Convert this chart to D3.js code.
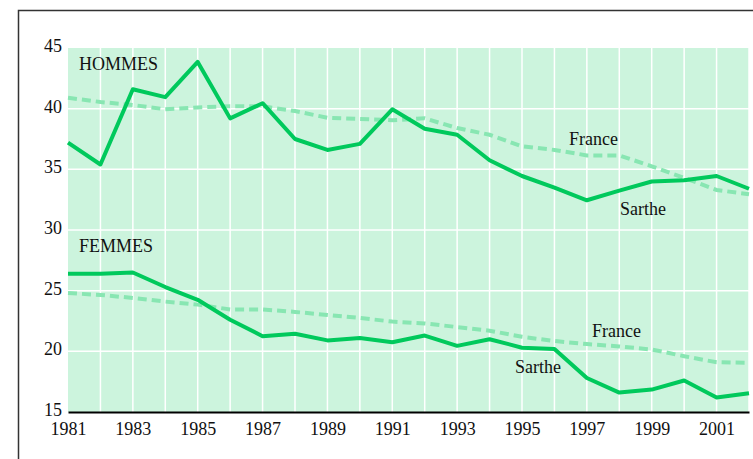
<!DOCTYPE html>
<html lang="fr">
<head>
  <meta charset="UTF-8" />
  <title>Hommes / Femmes - Sarthe et France</title>
  <script src="https://d3js.org/d3.v7.min.js"></script>
  <style>
    body, html { margin: 0; padding: 0; background: #fff; }
    svg { display: block; font-family: "Liberation Serif", "DejaVu Serif", serif; }
  </style>
</head>
<body>
  <svg id="chart" width="753" height="459"></svg>
  <script>
    // Years on the x axis
    const years = d3.range(1981, 2003);
    const xTickYears = [1981, 1983, 1985, 1987, 1989, 1991, 1993, 1995, 1997, 1999, 2001];
    const yTicks = [15, 20, 25, 30, 35, 40, 45];

    // Values
    const hommesSarthe = [37.2, 35.4, 41.6, 40.95, 43.85, 39.2, 40.45, 37.5, 36.6, 37.1, 39.95, 38.35,
                          37.85, 35.75, 34.45, 33.5, 32.45, 33.25, 34.0, 34.1, 34.45, 33.4];
    const hommesFrance = [40.9, 40.55, 40.3, 39.95, 40.1, 40.2, 40.2, 39.8, 39.25, 39.15, 39.05, 39.2,
                          38.4, 37.85, 36.9, 36.6, 36.15, 36.15, 35.25, 34.3, 33.3, 32.95];
    const femmesSarthe = [26.4, 26.4, 26.5, 25.3, 24.25, 22.6, 21.25, 21.45, 20.9, 21.1, 20.75, 21.3,
                          20.45, 21.0, 20.3, 20.2, 17.8, 16.6, 16.85, 17.6, 16.2, 16.55];
    const femmesFrance = [24.8, 24.65, 24.4, 24.1, 23.85, 23.45, 23.45, 23.25, 23.0, 22.75, 22.45, 22.3,
                          22.0, 21.7, 21.2, 20.85, 20.6, 20.4, 20.15, 19.6, 19.1, 19.05];

    const svg = d3.select('#chart');
    const plotLeft = 68, plotRight = 749, plotTop = 48, plotBottom = 412;

    // Outer frame (runs off the right and bottom of the picture)
    svg.append('rect')
      .attr('x', 18.5).attr('y', 10.5).attr('width', 760).attr('height', 470)
      .attr('fill', 'none').attr('stroke', '#333').attr('stroke-width', 1.5);

    const x = d3.scaleLinear().domain([1981, 2002]).range([plotLeft, plotRight]);
    const y = d3.scaleLinear().domain([15, 45]).range([plotBottom, plotTop]);

    // Plot background
    svg.append('rect')
      .attr('x', plotLeft).attr('y', plotTop)
      .attr('width', plotRight - plotLeft).attr('height', plotBottom - plotTop)
      .attr('fill', '#ccf4dd');

    // White grid lines
    const grid = svg.append('g').attr('stroke', '#fff').attr('stroke-width', 1.5);
    grid.selectAll('line.v').data(years.slice(1)).join('line')
      .attr('class', 'v')
      .attr('x1', d => x(d)).attr('x2', d => x(d))
      .attr('y1', plotTop).attr('y2', plotBottom);
    grid.selectAll('line.h').data(yTicks.filter(d => d > 15 && d < 45)).join('line')
      .attr('class', 'h')
      .attr('x1', plotLeft).attr('x2', plotRight)
      .attr('y1', d => y(d)).attr('y2', d => y(d));

    // Axes
    const xAxis = svg.append('g')
      .attr('transform', `translate(0,${plotBottom})`)
      .call(d3.axisBottom(x).tickValues(xTickYears).tickFormat(d3.format('d')).tickSize(0).tickPadding(10));
    xAxis.select('.domain').attr('stroke', '#000').attr('stroke-width', 2);
    xAxis.selectAll('text').attr('font-size', 18).attr('font-family', '"Liberation Serif", serif').attr('fill', '#111');

    const yAxis = svg.append('g')
      .attr('transform', `translate(${plotLeft},0)`)
      .call(d3.axisLeft(y).tickValues(yTicks).tickSize(0).tickPadding(6));
    yAxis.select('.domain').remove();
    yAxis.selectAll('text').attr('font-size', 18).attr('font-family', '"Liberation Serif", serif').attr('fill', '#111')
      .attr('dy', '0.2em');

    // Lines
    const line = d3.line().x((d, i) => x(years[i])).y(d => y(d));
    const dashed = [hommesFrance, femmesFrance];
    const solid = [hommesSarthe, femmesSarthe];

    svg.selectAll('path.france').data(dashed).join('path')
      .attr('class', 'france')
      .attr('d', line)
      .attr('fill', 'none')
      .attr('stroke', '#88e6b2')
      .attr('stroke-width', 4)
      .attr('stroke-dasharray', '9,5');

    svg.selectAll('path.sarthe').data(solid).join('path')
      .attr('class', 'sarthe')
      .attr('d', line)
      .attr('fill', 'none')
      .attr('stroke', '#00c95c')
      .attr('stroke-width', 4)
      .attr('stroke-linejoin', 'round');

    // Labels
    const labels = [
      { text: 'HOMMES', x: 79, y: 70 },
      { text: 'FEMMES', x: 79, y: 252 },
      { text: 'France', x: 569, y: 145 },
      { text: 'Sarthe', x: 620, y: 215 },
      { text: 'France', x: 592, y: 337 },
      { text: 'Sarthe', x: 515, y: 373 }
    ];
    svg.selectAll('text.lbl').data(labels).join('text')
      .attr('class', 'lbl')
      .attr('x', d => d.x).attr('y', d => d.y)
      .attr('font-size', 18).attr('fill', '#111')
      .text(d => d.text);
  </script>
</body>
</html>
